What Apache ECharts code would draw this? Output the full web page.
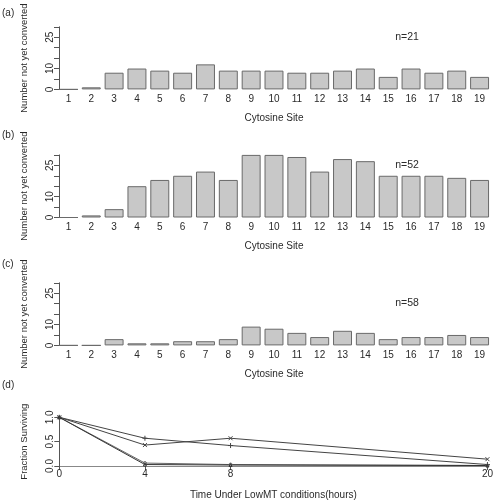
<!DOCTYPE html>
<html><head><meta charset="utf-8">
<script src="https://cdn.jsdelivr.net/npm/echarts@6/dist/echarts.min.js"></script>
<style>html,body{margin:0;padding:0;background:#fff}#c{width:496px;height:502px}</style>
</head><body><div id="c"></div>
<script>
const sites = ['1','2','3','4','5','6','7','8','9','10','11','12','13','14','15','16','17','18','19'];
const countsA = [0,1,8,10,9,8,12,9,9,9,8,8,9,10,6,10,8,9,6];
const countsB = [0,1,4,15,18,20,22,18,30,30,29,22,28,27,20,20,20,19,18];
const countsC = [0,0,3,1,1,2,2,3,9,8,6,4,7,6,3,4,4,5,4];
const countLabels = [0,10,25];
const nLabels = ['n=21','n=52','n=58'];
const hours = [0,4,8,20];
const survPlus = [1,0.57,0.42,0.03];
const survCross = [1,0.43,0.57,0.14];
const survLow1 = [1,0.06,0.03,0.01];
const survLow2 = [1,0.03,0.02,0.01];
const fracLabels = [0,0.5,1];

const FONT = 'Liberation Sans';
const TXT = '#2a2a2a';
const AX = '#555';
const chart = echarts.init(document.getElementById('c'), null, {renderer:'canvas'});

const barTops = [26.8, 154.9, 282.8];
const barH = 62.6;
const counts = [countsA, countsB, countsC];
const grids = [], xAxes = [], yAxes = [], series = [], graphics = [];
const panelTags = ['(a)','(b)','(c)','(d)'];
const tagY = [13, 135, 264, 385];

barTops.forEach((top, i) => {
  grids.push({left:57, width:434, top:top, height:barH});
  xAxes.push({type:'category', gridIndex:i, data:sites,
    axisLine:{show:false}, axisTick:{show:false},
    axisLabel:{fontFamily:FONT, fontSize:10, color:TXT, margin:5, interval:0},
    name:'Cytosine Site', nameLocation:'middle', nameGap:24,
    nameTextStyle:{fontFamily:FONT, fontSize:10, color:TXT}});
  yAxes.push({type:'value', gridIndex:i, min:0, max:30, interval:5, offset:-2,
    splitLine:{show:false},
    axisLine:{show:true, lineStyle:{color:AX, width:1}},
    axisTick:{show:true, length:5, lineStyle:{color:AX}},
    axisLabel:{fontFamily:FONT, fontSize:10, color:TXT, rotate:90, margin:4,
      customValues:countLabels},
    name:'Number not yet converted', nameLocation:'middle', nameGap:30,
    nameTextStyle:{fontFamily:FONT, fontSize:9.5, color:TXT}});
  series.push({type:'bar', xAxisIndex:i, yAxisIndex:i, data:counts[i],
    barCategoryGap:'17%', silent:true,
    itemStyle:{color:'#c8c8c8', borderColor:'#6a6a6a', borderWidth:1}});
  graphics.push({type:'text', x:407, y:[37,165.3,302.7][i],
    style:{text:nLabels[i], font:'10.5px "'+FONT+'"', fill:TXT, align:'center', verticalAlign:'middle'}});
});

// panel d
grids.push({left:59.3, width:429.7, top:417.3, height:48.7});
xAxes.push({type:'value', gridIndex:3, min:0, max:20, interval:4,
  splitLine:{show:false},
  axisLine:{show:true, onZero:false, lineStyle:{color:'#888', width:1}},
  axisTick:{show:true, length:4, customValues:hours, lineStyle:{color:AX}},
  axisLabel:{fontFamily:FONT, fontSize:10, color:TXT, margin:3, customValues:hours},
  name:'Time Under LowMT conditions(hours)', nameLocation:'middle', nameGap:24,
  nameTextStyle:{fontFamily:FONT, fontSize:10, color:TXT}});
yAxes.push({type:'value', gridIndex:3, min:0, max:1, interval:0.5,
  splitLine:{show:false},
  axisLine:{show:true, lineStyle:{color:AX, width:1}},
  axisTick:{show:true, length:5, lineStyle:{color:AX}},
  axisLabel:{fontFamily:FONT, fontSize:10, color:TXT, rotate:90, margin:4,
    customValues:fracLabels, formatter:v=>v.toFixed(1)},
  name:'Fraction Surviving', nameLocation:'middle', nameGap:30,
  nameTextStyle:{fontFamily:FONT, fontSize:9.5, color:TXT}});

const plusSym = 'path://M5,0L5,10M0,5L10,5';
const crossSym = 'path://M0,0L10,10M10,0L0,10';
function lineSeries(vals, sym, col, size){
  return {type:'line', xAxisIndex:3, yAxisIndex:3, silent:true,
    data:hours.map((h,k)=>[h, vals[k]]),
    symbol:sym, symbolSize:size, showSymbol:true,
    lineStyle:{color:col, width:1},
    itemStyle:{color:'rgba(0,0,0,0)', borderColor:col, borderWidth:1}};
}
series.push(lineSeries(survPlus, plusSym, '#444', 5));
series.push(lineSeries(survCross, crossSym, '#444', 4));
series.push(lineSeries(survLow1, 'circle', '#666', 3));
series.push(lineSeries(survLow2, 'triangle', '#333', 3));

panelTags.forEach((t,i)=>{
  graphics.push({type:'text', x:2, y:tagY[i],
    style:{text:t, font:'10px "'+FONT+'"', fill:TXT, align:'left', verticalAlign:'middle'}});
});

chart.setOption({
  animation:false,
  grid:grids, xAxis:xAxes, yAxis:yAxes, series:series, graphic:graphics
});
</script></body></html>
